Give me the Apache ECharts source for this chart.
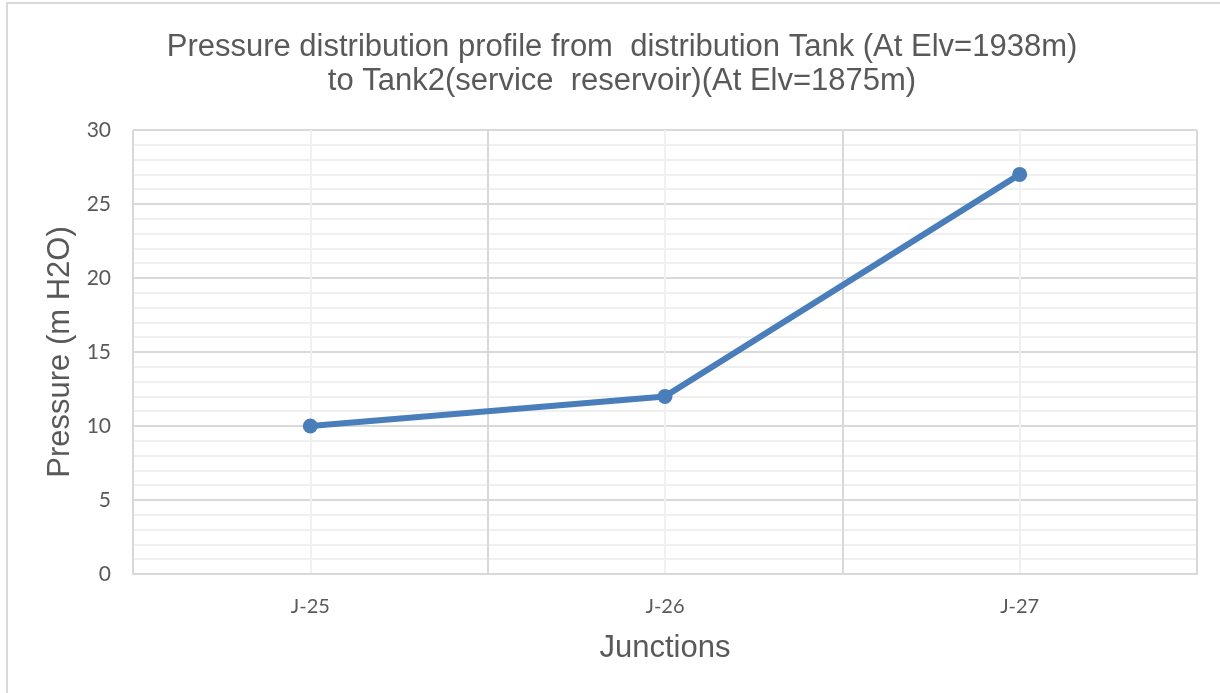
<!DOCTYPE html>
<html>
<head>
<meta charset="utf-8">
<script src="https://cdn.jsdelivr.net/npm/echarts@6/dist/echarts.min.js"></script>
<style>
  html, body { margin: 0; padding: 0; background: #fff; }
  #chartBox { width: 1220px; height: 693px; }
</style>
</head>
<body>
<div id="chartBox"></div>
<script>
const junctions = ['J-25', 'J-26', 'J-27']
const pressure = [10, 12, 27]
const titleLines = [
  'Pressure distribution profile from  distribution Tank (At Elv=1938m)',
  'to Tank2(service  reservoir)(At Elv=1875m)'
]

var myChart = echarts.init(document.getElementById('chartBox'))

const major = '#d9d9d9'
const minor = '#f0f0f0'
const txt = '#595959'

const option = {
  backgroundColor: '#fff',
  animation: false,
  title: {
    text: titleLines.join('\n'),
    left: 617,
    textAlign: 'center',
    top: 25,
    textStyle: {
      fontFamily: 'Liberation Sans',
      fontSize: 31,
      fontWeight: 'normal',
      color: txt,
      lineHeight: 34
    }
  },
  graphic: [
    {
      type: 'rect',
      shape: { x: 7, y: 3, width: 1240, height: 720 },
      style: { fill: 'none', stroke: major, lineWidth: 2 },
      silent: true
    }
  ],
  grid: {
    left: 133,
    right: 23,
    top: 130,
    bottom: 119
  },
  xAxis: [
    {
      type: 'category',
      data: junctions,
      boundaryGap: true,
      name: 'Junctions',
      nameLocation: 'middle',
      nameGap: 59,
      nameTextStyle: { fontFamily: 'Liberation Sans', fontSize: 31, color: txt },
      axisLine: { show: true, lineStyle: { color: major, width: 2 } },
      axisTick: { show: false },
      axisLabel: { fontFamily: 'Lato', fontSize: 20, color: txt, margin: 23 },
      splitLine: { show: true, lineStyle: { color: major, width: 2 } },
      z: 3
    },
    {
      // hidden value axis just for the light lines at category centres
      type: 'value',
      min: 0,
      max: 3,
      interval: 1,
      show: true,
      position: 'bottom',
      axisLine: { show: false },
      axisTick: { show: false },
      axisLabel: { show: false },
      splitLine: { show: false },
      minorTick: { show: false, splitNumber: 2 },
      minorSplitLine: { show: true, lineStyle: { color: minor, width: 2 } }
    }
  ],
  yAxis: {
    type: 'value',
    min: 0,
    max: 30,
    interval: 5,
    name: 'Pressure (m H2O)',
    nameLocation: 'middle',
    nameGap: 56,
    nameTextStyle: { fontFamily: 'Liberation Sans', fontSize: 31, color: txt },
    axisLine: { show: false },
    axisTick: { show: false },
    axisLabel: { fontFamily: 'Lato', fontSize: 21, color: txt, margin: 22 },
    splitLine: { show: true, lineStyle: { color: major, width: 2 } },
    minorTick: { show: false, splitNumber: 5 },
    minorSplitLine: { show: true, lineStyle: { color: minor, width: 2 } }
  },
  series: [
    {
      name: 'Pressure',
      type: 'line',
      xAxisIndex: 0,
      data: pressure,
      symbol: 'circle',
      symbolSize: 15,
      lineStyle: { color: '#4a7ebb', width: 6 },
      itemStyle: { color: '#4a7ebb' },
      z: 5
    }
  ]
}

myChart.setOption(option)
</script>
</body>
</html>
